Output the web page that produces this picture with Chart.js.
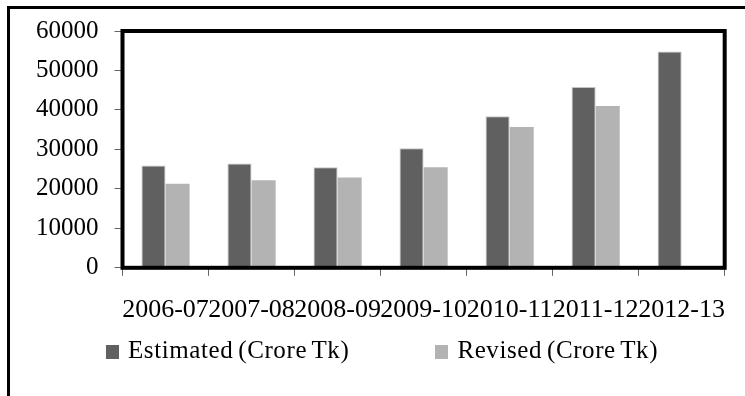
<!DOCTYPE html>
<html>
<head>
<meta charset="utf-8">
<script src="https://cdn.jsdelivr.net/npm/chart.js@4.4.0/dist/chart.umd.min.js"></script>
<style>
  html, body { margin: 0; padding: 0; background: #fff; }
  #wrap { position: relative; width: 745px; height: 396px; overflow: hidden; background: #fff; }
  #chart { position: absolute; left: 0; top: 0; }
  #legend { position: absolute; left: 106px; top: 336px; font-family: 'Liberation Serif', serif;
            font-size: 25px; letter-spacing: 0.6px; word-spacing: -2px; color: #000; white-space: nowrap; }
  #legend span.item { display: inline-block; margin-right: 86px; }
  #legend span.box { display: inline-block; width: 13px; height: 14px; margin-right: 9px; vertical-align: -1px; }
</style>
</head>
<body>
<div id="wrap">
  <canvas id="chart" width="745" height="396"></canvas>
  <div id="legend"></div>
</div>
<script>
var years = ['2006-07', '2007-08', '2008-09', '2009-10', '2010-11', '2011-12', '2012-13'];
var estimated = [25900, 26400, 25500, 30300, 38400, 45800, 54800];
var revised = [21300, 22200, 22900, 25500, 35700, 41000, null];
var seriesNames = ['Estimated (Crore Tk)', 'Revised (Crore Tk)'];
var seriesColors = ['#606060', '#b3b3b3'];

var serif = "'Liberation Serif', 'Times New Roman', serif";

// outer frame (top and left edges only are in view)
var outerFrame = {
    id: 'outerFrame',
    beforeDraw: function (chart) {
        var ctx = chart.ctx;
        ctx.save();
        ctx.fillStyle = '#000';
        ctx.fillRect(7, 6, chart.width - 7, 3);
        ctx.fillRect(7, 6, 3, chart.height - 6);
        ctx.restore();
    }
};

// thick box round the plot area
var plotBox = {
    id: 'plotBox',
    afterDatasetsDraw: function (chart) {
        var a = chart.chartArea;
        var ctx = chart.ctx;
        ctx.save();
        ctx.strokeStyle = '#000';
        ctx.lineWidth = 4;
        ctx.strokeRect(a.left, a.top, a.right - a.left, a.bottom - a.top);
        ctx.restore();
    }
};

var chart = new Chart(document.getElementById('chart'), {
    type: 'bar',
    data: {
        labels: years,
        datasets: [
            {
                label: seriesNames[0],
                data: estimated,
                backgroundColor: seriesColors[0],
                borderColor: '#c4c4c4',
                borderWidth: 1,
                categoryPercentage: 0.56,
                barPercentage: 1
            },
            {
                label: seriesNames[1],
                data: revised,
                backgroundColor: seriesColors[1],
                borderWidth: 0,
                categoryPercentage: 0.56,
                barPercentage: 1
            }
        ]
    },
    options: {
        responsive: false,
        animation: false,
        devicePixelRatio: 1,
        layout: { padding: { left: 20, right: 14, top: 16, bottom: 51 } },
        plugins: {
            legend: { display: false },
            tooltip: { enabled: false }
        },
        scales: {
            x: {
                grid: { display: true, drawOnChartArea: false, drawTicks: true, tickLength: 8, color: '#666', offset: true },
                border: { display: false },
                ticks: { color: '#000', font: { family: serif, size: 26 }, padding: 19,
                         maxRotation: 0, minRotation: 0, autoSkip: false }
            },
            y: {
                min: 0,
                max: 60000,
                grid: { display: true, drawOnChartArea: false, drawTicks: true, tickLength: 8, color: '#666' },
                border: { display: false },
                ticks: { stepSize: 10000, color: '#000', font: { family: serif, size: 25 }, padding: 16,
                         callback: function (v) { return String(v); } }
            }
        }
    },
    plugins: [outerFrame, plotBox]
});

// legend as html, from the datasets
var legendHtml = '';
chart.data.datasets.forEach(function (ds) {
    legendHtml += '<span class="item"><span class="box" style="background:' + ds.backgroundColor + '"></span>' + ds.label + '</span>';
});
document.getElementById('legend').innerHTML = legendHtml;
</script>
</body>
</html>
